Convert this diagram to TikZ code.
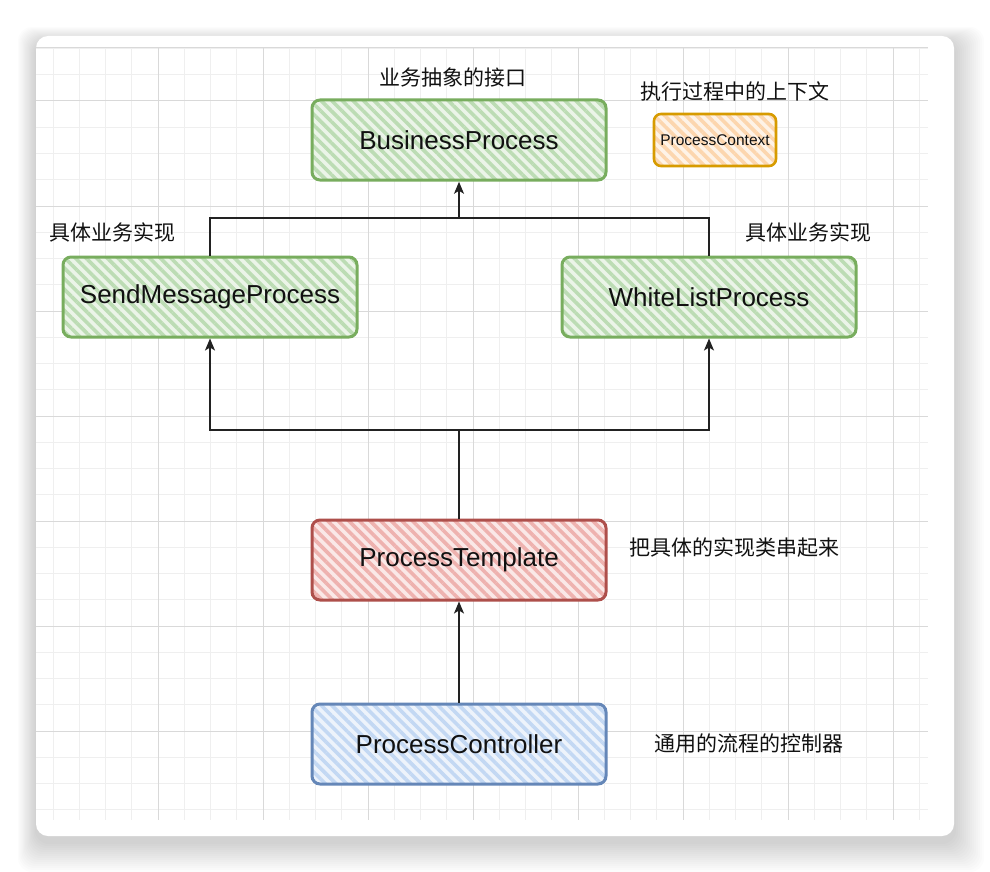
\documentclass[tikz,border=0pt]{standalone}
\usepackage{fontspec}
\setmainfont{Liberation Sans}
\newfontfamily\cjk{Noto Sans CJK SC}
\usetikzlibrary{arrows.meta,patterns.meta,positioning}
\definecolor{BPGreen}{HTML}{78AD5E}
\definecolor{BPGreenFill}{HTML}{BCDCB4}
\definecolor{BPOrange}{HTML}{D79B00}
\definecolor{BPOrangeFill}{HTML}{FCD6AE}
\definecolor{BPRed}{HTML}{AE4F4B}
\definecolor{BPRedFill}{HTML}{EEB2AF}
\definecolor{BPBlue}{HTML}{6587B8}
\definecolor{BPBlueFill}{HTML}{C3D8F3}
\definecolor{BPGridMinor}{HTML}{EFEFEF}
\definecolor{BPGridMajor}{HTML}{D9D9D9}
\definecolor{BPInk}{HTML}{111111}
\definecolor{BPWire}{HTML}{222222}
\tikzset{
  bpBox/.style={
    rectangle, rounded corners=8pt, draw=#1, line width=3pt,
    preaction={fill=#1Fill!30}, pattern={Lines[angle=-45,distance=7.5pt,line width=3.6pt]},
    pattern color=#1Fill, text=BPInk, align=center,
    minimum width=294pt, minimum height=80pt, inner sep=0pt,
    font=\fontsize{26}{31}\selectfont
  },
  bpBox/.default=BPGreen,
  bpSmall/.style={
    bpBox=#1, rounded corners=7pt, line width=2.6pt,
    minimum width=122pt, minimum height=52pt, font=\fontsize{15.5}{18}\selectfont
  },
  bpSmall/.default=BPOrange,
  bpNote/.style={text=BPInk, inner sep=0pt, font=\cjk\fontsize{21}{24}\selectfont},
  bpLine/.style={draw=BPWire, line width=1.3pt},
  bpArrow/.style={bpLine, -{Stealth[length=12pt,width=10pt,inset=3pt]}}
}
\begin{document}
\begin{tikzpicture}[x=1pt, y=-1pt]
  \useasboundingbox (0,0) rectangle (990,872);
  % card with soft shadow
  \foreach \s in {2,4,...,30}
    \fill[black, opacity=0.012, rounded corners=14pt]
      (36-0.6*\s, 36-0.5*\s+6) rectangle (954+\s, 836+\s+6);
  \fill[white, rounded corners=12pt] (36,36) rectangle (954,836);
  % grid
  \foreach \i in {-4,...,29}
    \draw[BPGridMinor, line width=1pt] (158+26.25*\i, 48) -- (158+26.25*\i, 820);
  \foreach \j in {-2,...,27}
    \draw[BPGridMinor, line width=1pt] (36, 101+26.25*\j) -- (928, 101+26.25*\j);
  \foreach \i in {0,...,7}
    \draw[BPGridMajor, line width=1pt] (158+105*\i, 48) -- (158+105*\i, 820);
  \foreach \j in {0,...,6}
    \draw[BPGridMajor, line width=1pt] (36, 101+105*\j) -- (928, 101+105*\j);
  \draw[BPGridMajor, line width=1pt] (36,48) -- (928,48);

  % boxes
  \node[bpBox=BPGreen] (bizProc) at (459,140) {BusinessProcess};
  \node[bpSmall=BPOrange] (procCtx) at (715,140) {ProcessContext};
  \node[bpBox=BPGreen] (sendMsg) at (210,297) {SendMessageProcess};
  \node[bpBox=BPGreen] (whiteList) at (709,297) {WhiteListProcess};
  \node[bpBox=BPRed] (procTpl) at (459,560) {ProcessTemplate};
  \node[bpBox=BPBlue] (procCtl) at (459,744) {ProcessController};

  % notes
  \node[bpNote] (noteIface) at (453,77) {业务抽象的接口};
  \node[bpNote] (noteCtx) at (735,91) {执行过程中的上下文};
  \node[bpNote] (noteSend) at (112,232) {具体业务实现};
  \node[bpNote] (noteWhite) at (808,232) {具体业务实现};
  \node[bpNote] (noteTpl) at (734,548) {把具体的实现类串起来};
  \node[bpNote] (noteCtl) at (749,744) {通用的流程的控制器};

  % connectors
  \coordinate (upJoin) at (459,218);
  \coordinate (downJoin) at (459,430);
  \draw[bpLine] (sendMsg.north) |- (upJoin) -| (whiteList.north);
  \draw[bpArrow] (upJoin) -- (bizProc.south);
  \draw[bpLine] (procTpl.north) -- (downJoin);
  \draw[bpArrow] (downJoin) -| (sendMsg.south);
  \draw[bpArrow] (downJoin) -| (whiteList.south);
  \draw[bpArrow] (procCtl.north) -- (procTpl.south);
\end{tikzpicture}
\end{document}
